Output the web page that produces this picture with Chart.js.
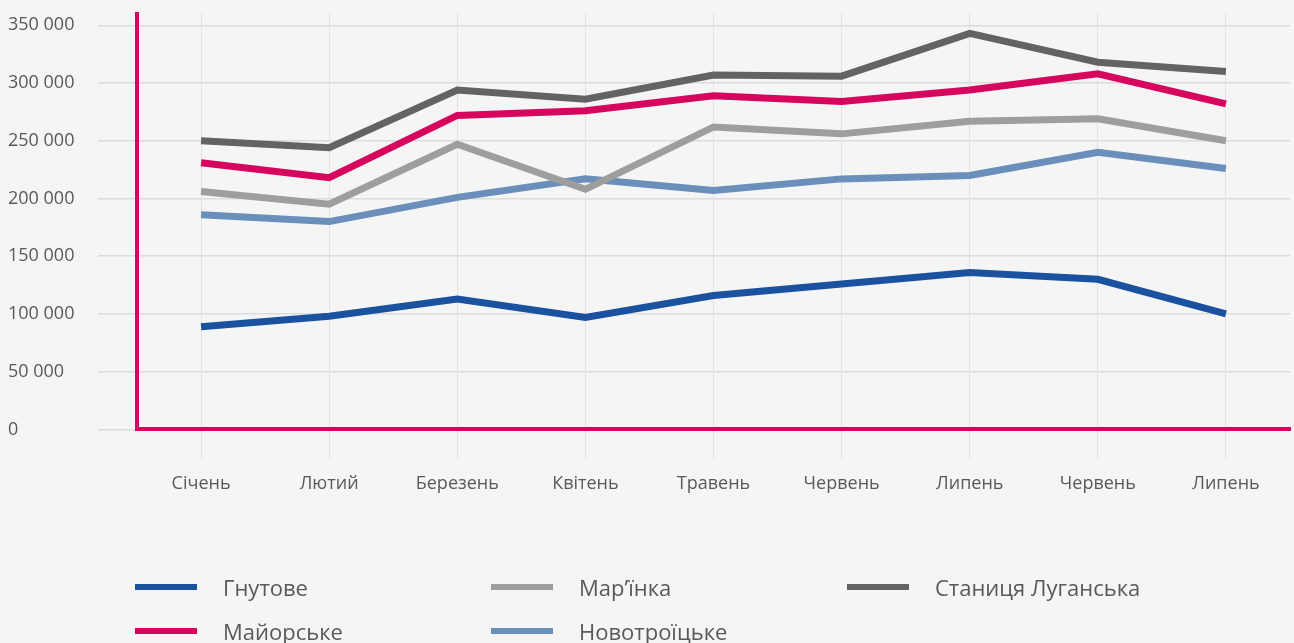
<!DOCTYPE html>
<html lang="uk">
<head>
<meta charset="utf-8">
<title>Графік</title>
<script src="https://cdn.jsdelivr.net/npm/chart.js@4/dist/chart.umd.min.js"></script>
<style>
    html, body { margin: 0; padding: 0; background: #f5f5f5; }
    #wrap { position: relative; width: 1294px; height: 643px; }
    #legenda {
        position: absolute; left: 135px; top: 565px;
        display: grid; grid-template-columns: 356px 356px 356px;
        grid-template-rows: 44px 44px; grid-auto-flow: column;
        font-family: "Open Sans", sans-serif; font-size: 22px; color: #595959;
    }
    .item { display: flex; align-items: center; }
    .item span.trait { display: inline-block; width: 62px; height: 6px; margin-right: 26px; }
</style>
</head>
<body>
<div id="wrap">
    <canvas id="graphe"></canvas>
    <div id="legenda"></div>
</div>
<script>
// --- Données ---
const mois = ['Січень', 'Лютий', 'Березень', 'Квітень', 'Травень', 'Червень', 'Липень', 'Червень', 'Липень'];
const graduations = [0, 50000, 100000, 150000, 200000, 250000, 300000, 350000];

const gnutove    = [89000, 98000, 113000, 97000, 116000, 126000, 136000, 130000, 100000];
const maiorske   = [231000, 218000, 272000, 276000, 289000, 284000, 294000, 308000, 282000];
const marinka    = [206000, 195000, 247000, 208000, 262000, 256000, 267000, 269000, 250000];
const novotroitske = [186000, 180000, 201000, 217000, 207000, 217000, 220000, 240000, 226000];
const stanytsia  = [250000, 244000, 294000, 286000, 307000, 306000, 343000, 318000, 310000];

const series = [
    { label: 'Гнутове', data: gnutove, color: '#1a52a0' },
    { label: 'Майорське', data: maiorske, color: '#d6065f' },
    { label: 'Мар’їнка', data: marinka, color: '#9e9e9e' },
    { label: 'Новотроїцьке', data: novotroitske, color: '#6a8fbb' },
    { label: 'Станиця Луганська', data: stanytsia, color: '#636363' },
];

const rose = '#d6065f';
const gris = '#595959';
const milliers = (v) => String(v).replace(/\B(?=(\d{3})+(?!\d))/g, ' ');

new Chart(document.getElementById('graphe'), {
    type: 'line',
    data: {
        labels: mois,
        datasets: series.map((s) => ({
            label: s.label,
            data: s.data,
            borderColor: s.color,
            backgroundColor: s.color,
            borderWidth: 7,
            pointRadius: 0,
            tension: 0,
        })),
    },
    options: {
        responsive: true,
        maintainAspectRatio: false,
        animation: false,
        layout: { padding: { left: 8, top: 8, right: 4, bottom: 134 } },
        plugins: { legend: { display: false }, tooltip: { enabled: false } },
        scales: {
            y: {
                min: 0, max: 360000,
                // graduations fixes : le max dépasse 350 000 sans tick propre
                afterBuildTicks: (scale) => { scale.ticks = graduations.map((v) => ({ value: v })); },
                afterFit: (scale) => { scale.width = 129; },
                ticks: {
                    crossAlign: 'far',
                    color: gris, font: { family: 'Open Sans', size: 18 },
                    callback: (v) => milliers(v),
                },
                grid: { color: '#dcdcdc', lineWidth: 1.5, tickLength: 39 },
                border: { color: rose, width: 4 },
            },
            x: {
                offset: true,
                ticks: { color: gris, font: { family: 'Open Sans', size: 18 }, padding: 14, maxRotation: 0 },
                grid: { offset: false, color: '#e2e2e2', lineWidth: 1, tickLength: 30 },
                border: { color: rose, width: 4 },
            },
        },
    },
});

// --- Légende (3 colonnes, remplissage par colonne) ---
const legenda = document.getElementById('legenda');
series.forEach((s) => {
    const item = document.createElement('div');
    item.className = 'item';
    item.innerHTML = `<span class="trait" style="background:${s.color}"></span><span>${s.label}</span>`;
    legenda.appendChild(item);
});
</script>
</body>
</html>
